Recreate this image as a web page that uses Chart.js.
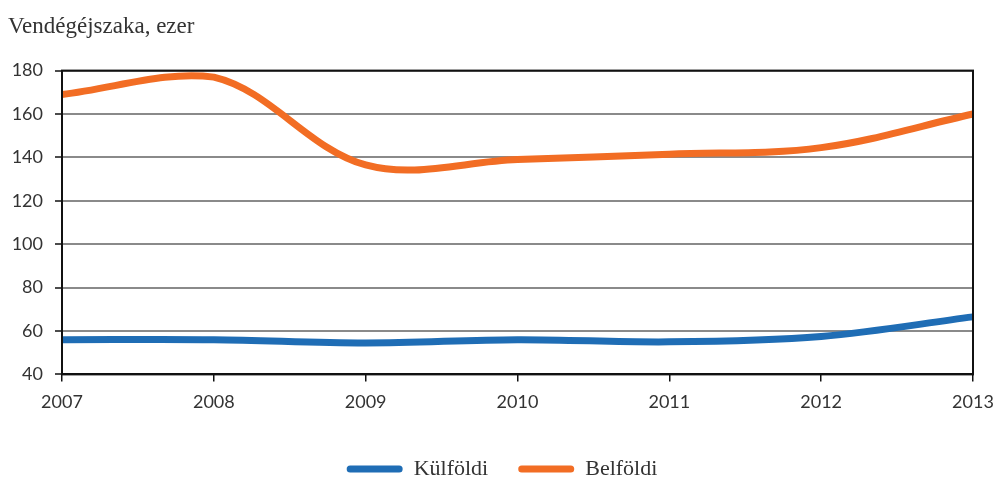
<!DOCTYPE html>
<html>
<head>
<meta charset="utf-8">
<script src="https://cdn.jsdelivr.net/npm/chart.js@4"></script>
<style>
  html, body { margin: 0; padding: 0; background: #fff; }
  #wrap { width: 996px; height: 477px; }
</style>
</head>
<body>
<div id="wrap"><canvas id="vendegChart"></canvas></div>
<script>
const years = ['2007', '2008', '2009', '2010', '2011', '2012', '2013'];
const kulfoldi = [56, 56, 54.5, 56, 55, 57.5, 66.5];
const belfoldi = [169, 177, 136.5, 139, 141.5, 144.5, 160];
const yTicks = [40, 60, 80, 100, 120, 140, 160, 180];

const tickFont = { family: 'Lato, "Open Sans", sans-serif', size: 18 };
const serifFamily = '"Liberation Serif", "DejaVu Serif", serif';

// keret a rajzterület körül
const frame = {
    id: 'frame',
    afterDatasetsDraw(chart) {
        const a = chart.chartArea, ctx = chart.ctx;
        ctx.save();
        ctx.strokeStyle = '#111';
        ctx.lineWidth = 2;
        ctx.strokeRect(a.left, a.top, a.right - a.left, a.bottom - a.top);
        ctx.restore();
    }
};

new Chart(document.getElementById('vendegChart'), {
    type: 'line',
    data: {
        labels: years,
        datasets: [
            {
                label: 'Külföldi',
                data: kulfoldi,
                borderColor: '#1f6db5',
                backgroundColor: '#1f6db5',
                borderWidth: 7,
                tension: 0.35,
                pointRadius: 0
            },
            {
                label: 'Belföldi',
                data: belfoldi,
                borderColor: '#f26d24',
                backgroundColor: '#f26d24',
                borderWidth: 7,
                tension: 0.35,
                pointRadius: 0
            }
        ]
    },
    options: {
        responsive: true,
        maintainAspectRatio: false,
        animation: false,
        layout: { padding: { left: 8, right: 0, top: 0, bottom: -13 } },
        plugins: {
            title: {
                display: true,
                text: 'Vendégéjszaka, ezer',
                align: 'start',
                color: '#333',
                font: { family: serifFamily, size: 23, weight: 'normal' },
                padding: { top: 13, bottom: 30 }
            },
            legend: {
                position: 'bottom',
                labels: {
                    color: '#333',
                    font: { family: serifFamily, size: 22 },
                    boxWidth: 56,
                    boxHeight: 7,
                    padding: 30,
                    useBorderRadius: true,
                    borderRadius: 3.5,
                    generateLabels(chart) {
                        return chart.data.datasets.map((ds, i) => ({
                            text: ds.label,
                            fillStyle: ds.borderColor,
                            strokeStyle: ds.borderColor,
                            lineWidth: 0,
                            borderRadius: 3.5,
                            fontColor: '#333',
                            datasetIndex: i
                        }));
                    }
                }
            },
            tooltip: { enabled: false }
        },
        scales: {
            x: {
                offset: false,
                afterFit(scale) { scale.paddingRight = 23; scale.height += 5; },
                grid: { display: true, drawOnChartArea: false, drawTicks: true, tickLength: 7, color: '#111', lineWidth: 1.5 },
                border: { color: '#111', width: 2 },
                ticks: { color: '#333', font: tickFont, maxRotation: 0, padding: 10 }
            },
            y: {
                min: 40,
                max: 180,
                afterFit(scale) { scale.width = 54; },
                afterBuildTicks(scale) { scale.ticks = yTicks.map(v => ({ value: v })); },
                grid: { color: '#8a8a8a', lineWidth: 2, tickLength: 7, tickColor: '#111', tickWidth: 1.5 },
                border: { color: '#111', width: 2 },
                ticks: { color: '#333', font: tickFont, padding: 12 }
            }
        }
    },
    plugins: [frame]
});
</script>
</body>
</html>
